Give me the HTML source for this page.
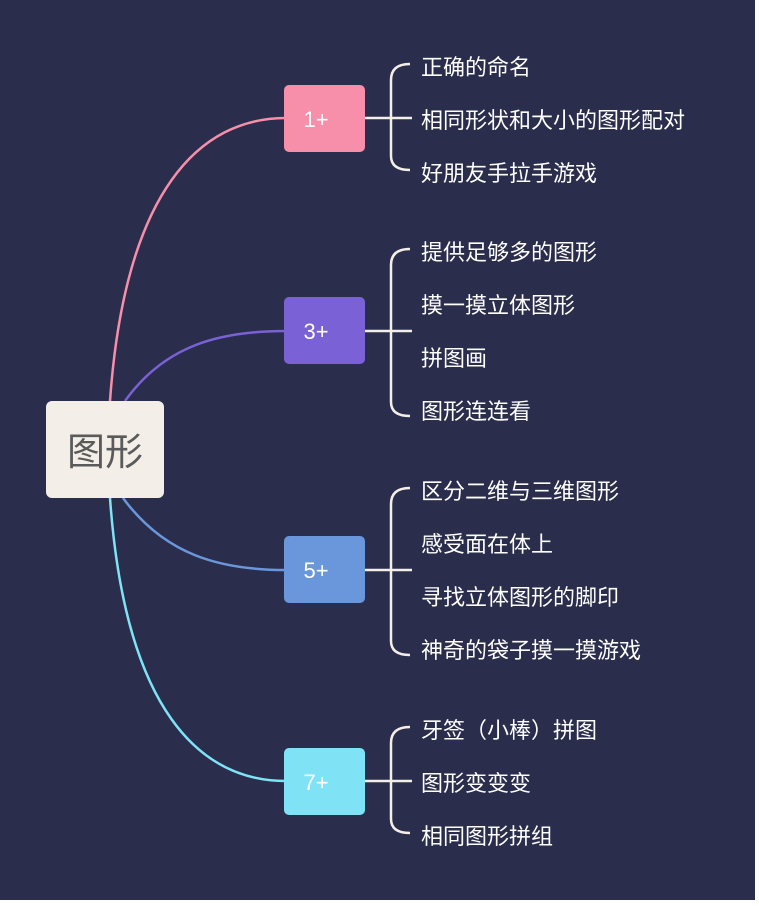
<!DOCTYPE html>
<html><head><meta charset="utf-8"><style>
html,body{margin:0;padding:0;background:#fff;}
#c{position:relative;width:759px;height:906px;overflow:hidden;background:#fff;}
svg{position:absolute;left:0;top:0;}
.t{font-family:"Liberation Sans","Noto Sans CJK SC",sans-serif;font-size:22px;fill:#fff;}
</style></head><body><div id="c">
<svg width="759" height="906" viewBox="0 0 759 906">
<rect x="0" y="0" width="755" height="900" fill="#2a2d4b"/>
<g fill="none" stroke-width="2.5">
<path d="M110,401 C125,190 200,118 286,118" stroke="#f78fab"/>
<path d="M125,401 C165,345 220,331 286,331" stroke="#7a62d6"/>
<path d="M123,498 C165,555 220,570 286,570" stroke="#6a97dc"/>
<path d="M110,498 C125,710 200,781 286,781" stroke="#7fe3f5"/>
</g>
<rect x="46" y="401" width="118" height="97" rx="6" fill="#f3efe8"/>
<text x="105" y="465" text-anchor="middle" font-family="Liberation Sans,Noto Sans CJK SC,sans-serif" font-size="38" fill="#5a5a5a">图形</text>
<g font-family="Liberation Sans,Noto Sans CJK SC,sans-serif" font-size="22" fill="#fff" text-anchor="middle">
<rect x="284" y="85" width="81" height="67" rx="5" fill="#f78fab"/><text x="316" y="127">1+</text>
<rect x="284" y="297" width="81" height="67" rx="5" fill="#7a62d6"/><text x="316" y="339">3+</text>
<rect x="284" y="536" width="81" height="67" rx="5" fill="#6a97dc"/><text x="316" y="578">5+</text>
<rect x="284" y="748" width="81" height="67" rx="5" fill="#7fe3f5"/><text x="316" y="790">7+</text>
</g>
<g fill="none" stroke="#f3efe8" stroke-width="2.5">
<path d="M365,118 H412"/><path d="M410,64 Q391,64 391,80 V156 Q391,170 410,170"/>
<path d="M365,331 H412"/><path d="M410,249 Q391,249 391,265 V402 Q391,416 410,416"/>
<path d="M365,570 H412"/><path d="M410,488 Q391,488 391,504 V641 Q391,655 410,655"/>
<path d="M365,781 H412"/><path d="M410,727 Q391,727 391,743 V819 Q391,833 410,833"/>
</g>
<g class="t">
<text x="421" y="75">正确的命名</text>
<text x="421" y="128">相同形状和大小的图形配对</text>
<text x="421" y="181">好朋友手拉手游戏</text>
<text x="421" y="260">提供足够多的图形</text>
<text x="421" y="313">摸一摸立体图形</text>
<text x="421" y="366">拼图画</text>
<text x="421" y="419">图形连连看</text>
<text x="421" y="499">区分二维与三维图形</text>
<text x="421" y="552">感受面在体上</text>
<text x="421" y="605">寻找立体图形的脚印</text>
<text x="421" y="658">神奇的袋子摸一摸游戏</text>
<text x="421" y="738">牙签（小棒）拼图</text>
<text x="421" y="791">图形变变变</text>
<text x="421" y="844">相同图形拼组</text>
</g>
</svg></div></body></html>
